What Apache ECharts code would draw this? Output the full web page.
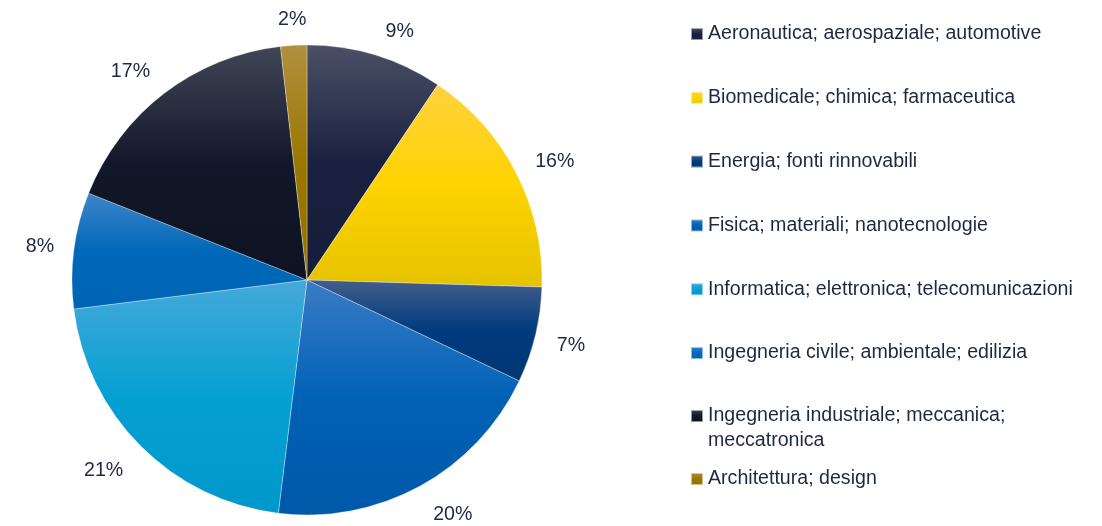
<!DOCTYPE html>
<html>
<head>
<meta charset="utf-8">
<script src="https://cdn.jsdelivr.net/npm/echarts@6/dist/echarts.min.js"></script>
<style>
  html, body { margin: 0; padding: 0; background: #fff; }
  #chart { width: 1102px; height: 526px; }
</style>
</head>
<body>
<div id="chart"></div>
<script>
// settori (ordine orario dalle ore 12)
var categories = [
  'Aeronautica; aerospaziale; automotive',
  'Biomedicale; chimica; farmaceutica',
  'Energia; fonti rinnovabili',
  'Fisica; materiali; nanotecnologie',
  'Informatica; elettronica; telecomunicazioni',
  'Ingegneria civile; ambientale; edilizia',
  'Ingegneria industriale; meccanica; meccatronica',
  'Architettura; design'
];
var shares = [9.4, 16.1, 6.6, 19.9, 21.1, 8.0, 17.2, 1.8];

// colori: chiaro in alto, pieno al centro, scuro in basso
var colorTop = ['#4b5066', '#ffd23f', '#435e8c', '#3b7cc4', '#45a9d9', '#3e85c9', '#404656', '#b09040'];
var colorMid = ['#1a2140', '#fdd300', '#003b7e', '#0062b6', '#05a0d2', '#0068b9', '#121829', '#9b7700'];
var colorBot = ['#161d3a', '#e6c300', '#003774', '#0058a8', '#0098cb', '#0064b4', '#0e1322', '#937000'];

var textColor = '#1f2743';
var fontFamily = '"Liberation Sans", Arial, sans-serif';

function grad(i) {
  return new echarts.graphic.LinearGradient(0, 0, 0, 1, [
    { offset: 0, color: colorTop[i] },
    { offset: 0.5, color: colorMid[i] },
    { offset: 1, color: colorBot[i] }
  ]);
}

var pieData = [];
for (var i = 0; i < categories.length; i++) {
  pieData.push({
    name: categories[i],
    value: shares[i],
    itemStyle: { color: grad(i) }
  });
}

var legendText = {
  color: textColor,
  fontSize: 19.6,
  fontFamily: fontFamily,
  lineHeight: 25,
  rich: {
    a: { color: textColor, fontSize: 19.6, fontFamily: fontFamily, lineHeight: 25 }
  }
};

var chart = echarts.init(document.getElementById('chart'), null, { renderer: 'canvas' });
chart.setOption({
  animation: false,
  legend: [
    {
      orient: 'vertical',
      left: 685,
      top: 16.5,
      itemWidth: 12,
      itemHeight: 12,
      itemGap: 38.8,
      icon: 'rect',
      selectedMode: false,
      textStyle: legendText,
      data: categories.slice(0, 6)
    },
    {
      orient: 'vertical',
      left: 685,
      top: 373.5,
      itemWidth: 12,
      itemHeight: 12,
      icon: 'rect',
      selectedMode: false,
      textStyle: legendText,
      formatter: function (name) {
        return '{a| }\n{a|Ingegneria industriale; meccanica;}\n{a|meccatronica}';
      },
      data: [categories[6]]
    },
    {
      orient: 'vertical',
      left: 685,
      top: 461.5,
      itemWidth: 12,
      itemHeight: 12,
      icon: 'rect',
      selectedMode: false,
      textStyle: legendText,
      data: [categories[7]]
    }
  ],
  series: [
    {
      type: 'pie',
      center: [307, 280],
      radius: 235,
      startAngle: 90,
      clockwise: true,
      avoidLabelOverlap: false,
      itemStyle: {
        borderColor: 'rgba(255,255,255,0.55)',
        borderWidth: 0.6
      },
      label: {
        show: true,
        position: 'outside',
        color: textColor,
        fontSize: 19.6,
        fontFamily: fontFamily,
        formatter: function (p) { return Math.round(p.value) + '%'; }
      },
      labelLine: { show: false, length: 25, length2: 0 },
      labelLayout: function (p) {
        if (p.dataIndex === 7) return { dx: 19, dy: -1 };
        if (p.dataIndex === 6) return { dx: 6, dy: -2 };
        if (p.dataIndex === 5) return { dx: 10 };
        if (p.dataIndex === 4) return { dx: 5, dy: 7 };
        if (p.dataIndex === 3) return { dx: -4, dy: 7 };
        if (p.dataIndex === 2) return { dx: -8, dy: 5 };
        if (p.dataIndex === 1) return { dx: -8, dy: 1 };
        return { dx: -2 };
      },
      emphasis: { disabled: true },
      data: pieData
    }
  ]
});
</script>
</body>
</html>
